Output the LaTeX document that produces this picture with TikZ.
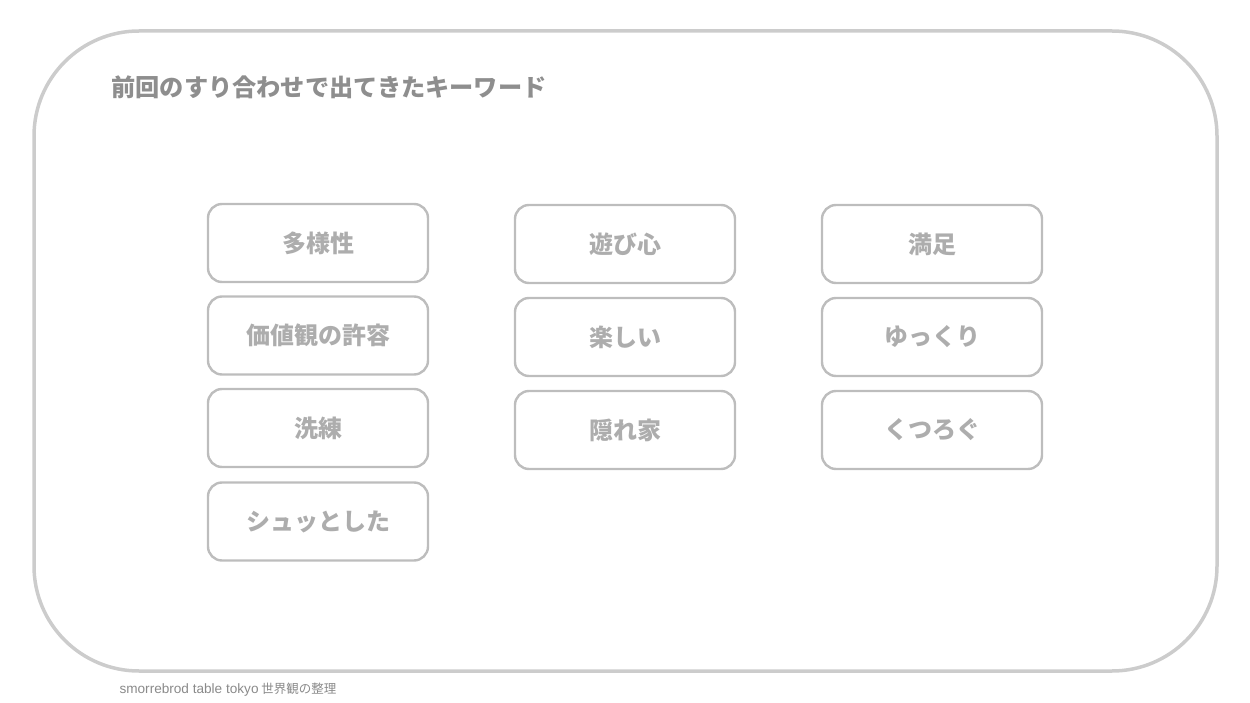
\documentclass[tikz,border=0pt]{standalone}
\usepackage{fontspec}
\setmainfont{Noto Sans CJK JP}
\newfontfamily\latinfont{Liberation Sans}
\usetikzlibrary{positioning}
\definecolor{framegray}{HTML}{CCCCCC}
\definecolor{boxgray}{HTML}{BDBDBD}
\definecolor{wordgray}{HTML}{ADADAD}
\definecolor{titlegray}{HTML}{8E8E8E}
\definecolor{footgray}{HTML}{8A8A8A}
\tikzset{
  keyword/.style={draw=boxgray, line width=2.4pt, rounded corners=14pt,
    minimum width=220pt, minimum height=78pt, inner sep=0pt,
    text=wordgray, font=\bfseries\fontsize{24}{28}\selectfont},
}

\begin{document}
\begin{tikzpicture}[x=1pt,y=-1pt]
\useasboundingbox (0,0) rectangle (1250,703);

% Outer frame
\draw[framegray, line width=3.5pt, rounded corners=105pt] (34,31) rectangle (1217,671);

% Title
\node[anchor=west, text=titlegray, font=\bfseries\fontsize{24.2}{28}\selectfont] (title) at (108,87) {前回のすり合わせで出てきたキーワード};

% Keyword boxes
\foreach \x/\y/\name/\word in {
    318/243/tayou/多様性,
    318/335.5/kyoyou/価値観の許容,
    318/428/senren/洗練,
    318/521.5/shutto/シュッとした,
    625/244/asobi/遊び心,
    625/337/tanoshii/楽しい,
    625/430/kakurega/隠れ家,
    932/244/manzoku/満足,
    932/337/yukkuri/ゆっくり,
    932/430/kutsurogu/くつろぐ
} {
    \node[keyword] (\name) at (\x,\y) {\word};
}

% Footer
\node[anchor=west, text=footgray, font=\fontsize{12.5}{14}\selectfont] (footer) at (116,690) {{\latinfont\fontsize{13.6}{14}\selectfont smorrebrod table tokyo} 世界観の整理};

\end{tikzpicture}
\end{document}
